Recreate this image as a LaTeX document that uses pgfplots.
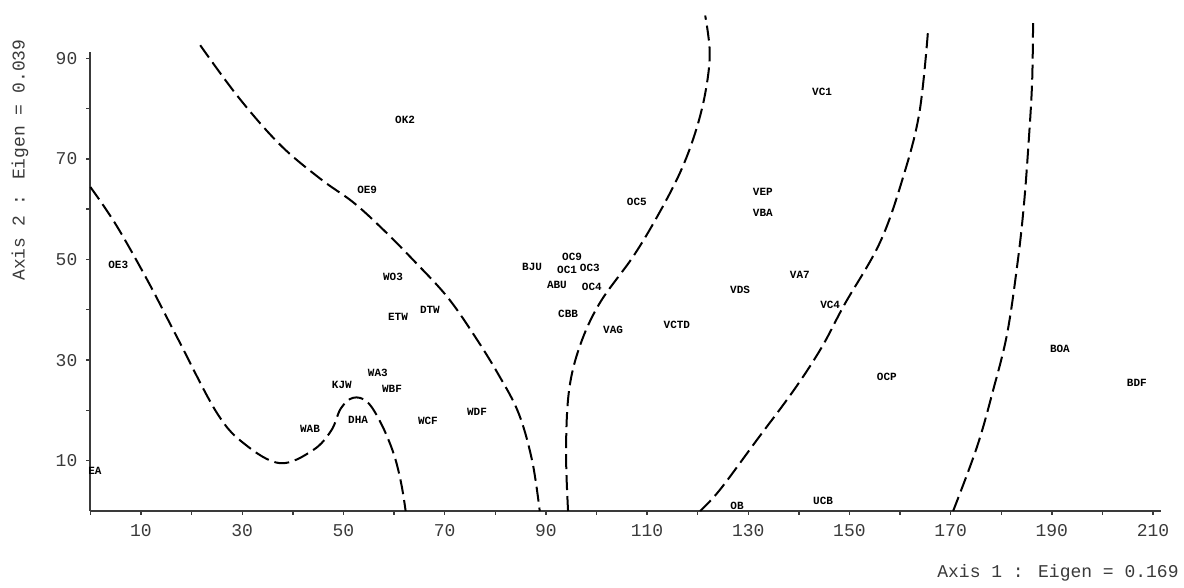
\documentclass[border=0pt]{standalone}
\usepackage{fontspec}
\setmainfont{Liberation Mono}
\usepackage{pgfplots}
\pgfplotsset{compat=1.18}
\definecolor{ink}{HTML}{3A3A3A}
\begin{document}
\begin{tikzpicture}
\path[use as bounding box] (-45.2pt,-38.5pt) rectangle (546.8pt,255.5pt);
\begin{axis}[
  at={(0pt,0pt)}, anchor=south west,
  x=2.53pt, y=2.515pt,
  xmin=0, xmax=211.5, ymin=0, ymax=91.3,
  clip=false,
  axis lines=left,
  axis line style={-, ink, line width=0.9pt},
  xtick={10,30,...,210}, minor xtick={0,20,...,200},
  ytick={10,30,...,90}, minor ytick={20,40,...,80},
  tick align=outside,
  major tick length=2pt, minor tick length=2pt,
  tick style={ink, line width=0.7pt},
  every tick label/.append style={font=\fontsize{9}{10}\selectfont, text=ink},
  /pgf/number format/assume math mode=true,
  xticklabel style={yshift=-1pt},
  yticklabel style={xshift=-1pt},
]
% boundary curves
\addplot[black, line width=1pt, dash pattern=on 7.5pt off 3pt, smooth, tension=0.6] coordinates {
(0,64.4) (5,57) (11.2,46) (17.1,34.6) (25,19.5) (30.5,13.3) (37.5,9.5) (44,12.1) (47.6,16) (49.5,20.4) (51.9,22.5) (54.7,21.7) (57.4,17.5) (59.9,11.5) (61.4,5.6) (62.3,0)
};
\addplot[black, line width=1pt, dash pattern=on 7.5pt off 3pt, smooth, tension=0.6] coordinates {
(21.7,92.6) (29.3,82.2) (37.5,72.8) (45.5,66) (51.9,61.4) (57.6,56.2) (63.8,49.9) (70.5,42.6) (75.8,35) (80.6,27.2) (84.6,19.5) (87.3,10) (88.8,0)
};
\addplot[black, line width=1pt, dash pattern=on 7.5pt off 3pt, smooth, tension=0.6] coordinates {
(94.4,0) (94,12) (94.6,24) (96.8,33) (100.7,41.4) (107.2,50.5) (112,58.5) (116.5,67.2) (119.5,75.1) (121.5,83) (122.4,91) (121.5,98.5)
};
\addplot[black, line width=1pt, dash pattern=on 7.5pt off 3pt, smooth, tension=0.6] coordinates {
(120.5,0) (124.4,4.2) (131.7,14.1) (139,24) (144.5,32.5) (149,41) (156,53.3) (160.5,66) (163.8,79) (165.5,95)
};
\addplot[black, line width=1pt, dash pattern=on 7.5pt off 3pt, smooth, tension=0.6] coordinates {
(170.5,0) (175.2,12.7) (178.4,24) (181.2,35.4) (183.3,49.9) (184.5,61) (185.4,73) (186.1,85) (186.3,97)
};
% site labels
\addplot[draw=none, mark=none, nodes near coords, point meta=explicit symbolic,
  nodes near coords style={anchor=center, inner sep=0pt, font=\fontsize{5.5}{6}\selectfont\bfseries, text=black}]
table[meta=label] {
x y label
0.9 8 EA
5.5 48.9 OE3
62.2 77.7 OK2
54.7 63.8 OE9
59.8 46.5 WO3
60.8 38.6 ETW
67.1 40 DTW
56.8 27.4 WA3
49.7 25 KJW
59.6 24.3 WBF
43.4 16.3 WAB
52.9 18.1 DHA
66.7 17.9 WCF
76.4 19.7 WDF
108 61.4 OC5
95.2 50.5 OC9
87.3 48.5 BJU
94.2 47.9 OC1
98.7 48.3 OC3
92.2 44.9 ABU
99.1 44.5 OC4
94.4 39.2 CBB
103.3 36 VAG
115.9 37 VCTD
128.4 43.9 VDS
144.6 83.3 VC1
132.9 63.4 VEP
132.9 59.2 VBA
140.2 46.9 VA7
146.2 41 VC4
157.4 26.6 OCP
191.6 32.2 BOA
206.8 25.4 BDF
144.8 2 UCB
127.8 1 OB
};
\end{axis}
\node[rotate=90, text=ink, font=\fontsize{9}{10}\selectfont] at (-35.2pt,175.5pt) {Axis 2 : Eigen = 0.039};
\node[text=ink, font=\fontsize{9}{10}\selectfont] at (483.8pt,-31pt) {Axis 1 : Eigen = 0.169};
\end{tikzpicture}
\end{document}
